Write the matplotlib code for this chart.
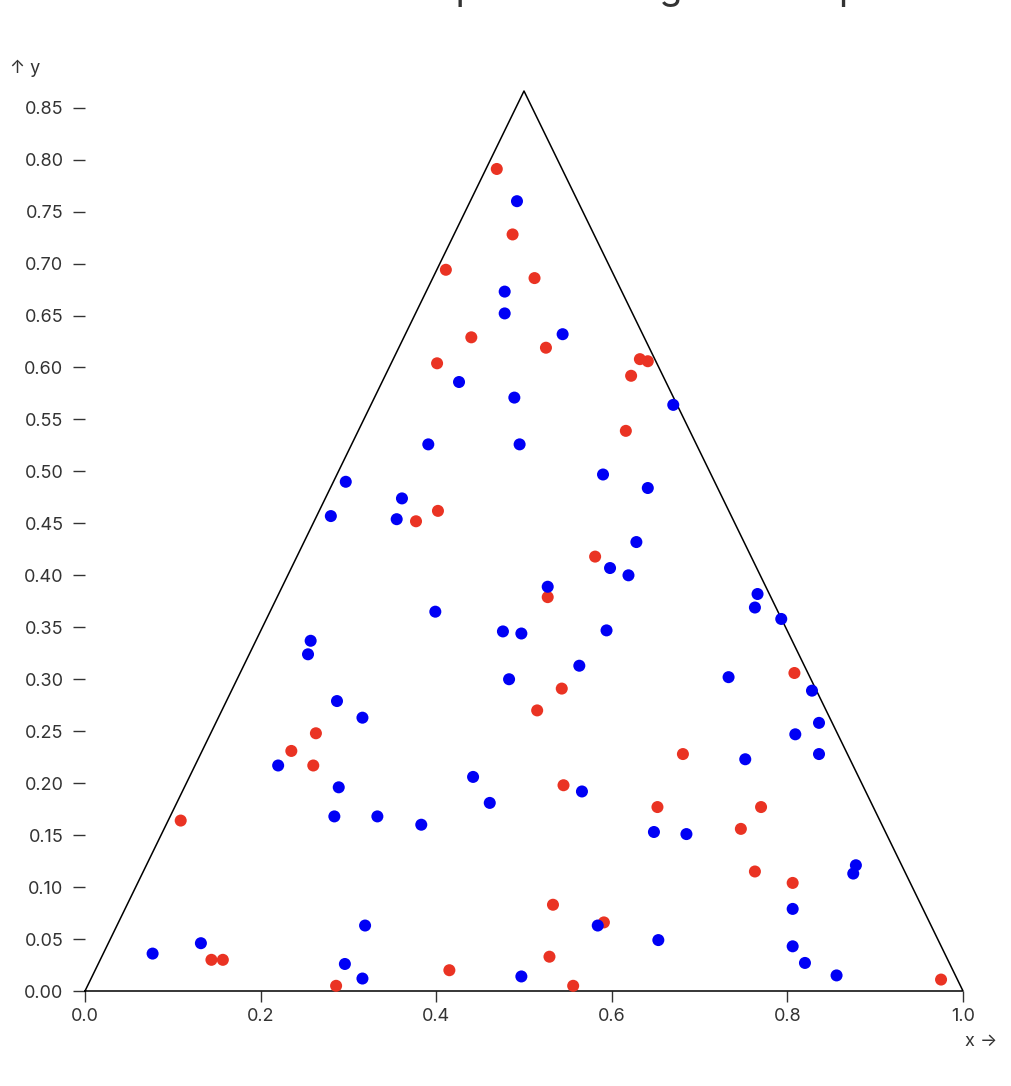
import numpy as np
import matplotlib
matplotlib.use("Agg")
import matplotlib.pyplot as plt

plt.rcParams['font.family'] = ['Inter', 'DejaVu Sans']

# red sample
red_x = [0.469, 0.487, 0.411, 0.512, 0.440, 0.525, 0.401, 0.632, 0.641, 0.622,
         0.616, 0.402, 0.377, 0.581, 0.527, 0.543, 0.515, 0.263, 0.235, 0.260,
         0.808, 0.681, 0.545, 0.652, 0.770, 0.747, 0.109, 0.763, 0.806, 0.533,
         0.591, 0.529, 0.144, 0.157, 0.415, 0.286, 0.556, 0.975]
red_y = [0.791, 0.728, 0.694, 0.686, 0.629, 0.619, 0.604, 0.608, 0.606, 0.592,
         0.539, 0.462, 0.452, 0.418, 0.379, 0.291, 0.270, 0.248, 0.231, 0.217,
         0.306, 0.228, 0.198, 0.177, 0.177, 0.156, 0.164, 0.115, 0.104, 0.083,
         0.066, 0.033, 0.030, 0.030, 0.020, 0.005, 0.005, 0.011]

# blue sample
blue_x = [0.492, 0.478, 0.478, 0.544, 0.426, 0.489, 0.670, 0.391, 0.495, 0.590,
          0.641, 0.297, 0.361, 0.280, 0.355, 0.628, 0.598, 0.619, 0.527, 0.766,
          0.763, 0.793, 0.399, 0.594, 0.476, 0.497, 0.257, 0.254, 0.563, 0.483,
          0.733, 0.828, 0.287, 0.316, 0.836, 0.809, 0.220, 0.752, 0.836, 0.442,
          0.289, 0.461, 0.566, 0.284, 0.333, 0.383, 0.648, 0.685, 0.878, 0.875,
          0.806, 0.319, 0.584, 0.806, 0.653, 0.077, 0.132, 0.820, 0.296, 0.316,
          0.497, 0.856]
blue_y = [0.760, 0.673, 0.652, 0.632, 0.586, 0.571, 0.564, 0.526, 0.526, 0.497,
          0.484, 0.490, 0.474, 0.457, 0.454, 0.432, 0.407, 0.400, 0.389, 0.382,
          0.369, 0.358, 0.365, 0.347, 0.346, 0.344, 0.337, 0.324, 0.313, 0.300,
          0.302, 0.289, 0.279, 0.263, 0.258, 0.247, 0.217, 0.223, 0.228, 0.206,
          0.196, 0.181, 0.192, 0.168, 0.168, 0.160, 0.153, 0.151, 0.121, 0.113,
          0.079, 0.063, 0.063, 0.043, 0.049, 0.036, 0.046, 0.027, 0.026, 0.012,
          0.014, 0.015]

h = np.sqrt(3) / 2
tri_x = [0, 1, 0.5, 0]
tri_y = [0, 0, h, 0]

W, H = 1012, 1086
fig = plt.figure(figsize=(W / 100, H / 100), dpi=100)
ax = fig.add_axes([85 / W, (H - 991) / H, 878 / W, 900 / H])
ax.set_xlim(0, 1)
ax.set_ylim(0, h)

ax.plot(tri_x, tri_y, color='black', lw=1.1, clip_on=False, zorder=2)
ax.scatter(red_x, red_y, s=75, color='#ea3323', edgecolors='none', zorder=3, clip_on=False)
ax.scatter(blue_x, blue_y, s=75, color='#0000f5', edgecolors='none', zorder=3, clip_on=False)

for sp in ax.spines.values():
    sp.set_visible(False)

gray = '#333333'
ax.set_yticks(np.arange(0, 0.851, 0.05))
ax.set_yticklabels(['%.2f' % v for v in np.arange(0, 0.851, 0.05)])
ax.set_xticks(np.arange(0, 1.01, 0.2))
ax.set_xticklabels(['%.1f' % v for v in np.arange(0, 1.01, 0.2)])
ax.tick_params(axis='y', length=8.5, width=1, color=gray, labelcolor=gray,
               labelsize=13, pad=7)
ax.tick_params(axis='x', length=8, width=1, color=gray, labelcolor=gray,
               labelsize=13, pad=4)

fig.text(10 / W, 1 - 68 / H, '↑ y', ha='left', va='center', fontsize=13, color=gray)
fig.text(997 / W, 1 - 1041 / H, 'x →', ha='right', va='center', fontsize=13, color=gray)

# title sits mostly above the top edge
fig.text(318 / W, 1 + 1 / H, 'Scatter plot showing random points', ha='left',
         va='baseline', fontsize=27, color=gray)

fig.savefig('out.png', dpi=100)
